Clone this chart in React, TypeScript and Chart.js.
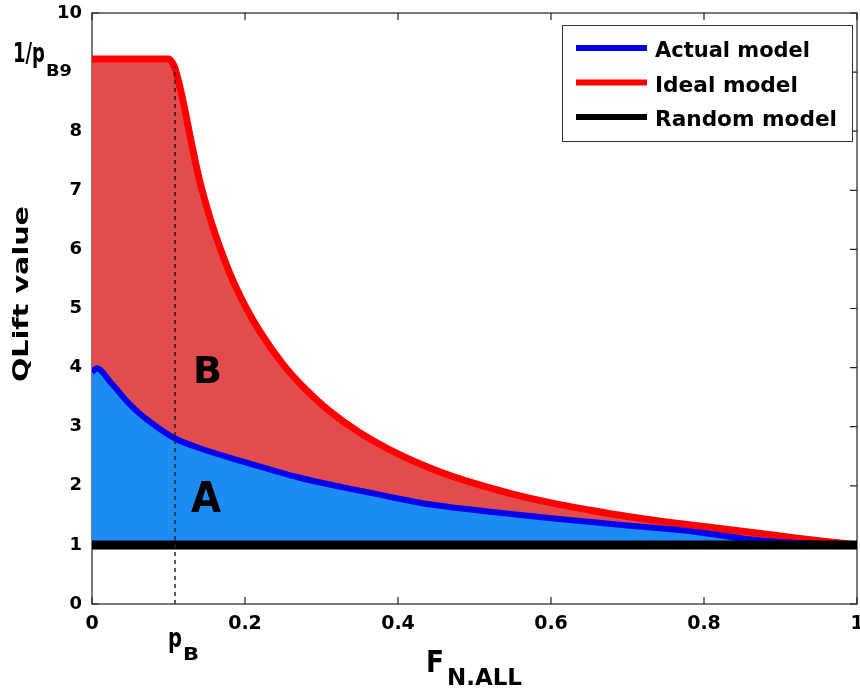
import React, { useEffect, useRef } from "react";
import { Chart, registerables } from "chart.js";

Chart.register(...registerables);

// ---- data ----
const idealX = [0, 0.1, 0.104, 0.108, 0.113, 0.12, 0.13, 0.14, 0.15, 0.16, 0.18, 0.2, 0.22, 0.25, 0.28, 0.31, 0.35, 0.4, 0.45, 0.5, 0.55, 0.6, 0.65, 0.7, 0.75, 0.8, 0.85, 0.9, 0.95, 1.0];
const idealY = [9.22, 9.22, 9.18, 9.08, 8.85, 8.45, 7.8, 7.2, 6.72, 6.3, 5.6, 5.05, 4.6, 4.05, 3.62, 3.27, 2.9, 2.54, 2.26, 2.04, 1.86, 1.71, 1.59, 1.48, 1.39, 1.31, 1.23, 1.15, 1.07, 1.0];

const actualX = [0, 0.006, 0.025, 0.05, 0.076, 0.1085, 0.14, 0.2, 0.27, 0.33, 0.376, 0.43, 0.5, 0.55, 0.6, 0.666, 0.7, 0.769, 0.8, 0.85, 0.9, 0.95, 1.0];
const actualY = [3.92, 3.99, 3.74, 3.37, 3.08, 2.8, 2.64, 2.4, 2.14, 1.97, 1.85, 1.71, 1.59, 1.52, 1.45, 1.37, 1.33, 1.25, 1.2, 1.11, 1.05, 1.02, 1.0];

const randomX = [0, 1];
const randomY = [1, 1];

const xTickValues = [0, 0.2, 0.4, 0.6, 0.8, 1];
const yTickValues = [0, 1, 2, 3, 4, 5, 6, 7, 8, 9, 10];
const pB = 0.1085;
const invPB = 9.1;

const legendLabels = ["Actual model", "Ideal model", "Random model"];
const legendColors = ["#0000ee", "#ff0000", "#000000"];

const FONT = '"DejaVu Sans"';

function toPoints(xs: number[], ys: number[]) {
  return xs.map((x, i) => ({ x, y: ys[i] }));
}

function fitText(ctx: CanvasRenderingContext2D, text: string, x: number, y: number, size: number, width?: number) {
  ctx.save();
  ctx.font = `bold ${size}px ${FONT}`;
  ctx.textAlign = "left";
  ctx.textBaseline = "alphabetic";
  const w = ctx.measureText(text).width;
  ctx.translate(x, y);
  if (width) ctx.scale(width / w, 1);
  ctx.fillText(text, 0, 0);
  ctx.restore();
}

const framePlugin = {
  id: "frame",
  beforeDatasetsDraw(chart: any) {
    const { ctx, chartArea } = chart;
    const { left, right, top, bottom } = chartArea;
    const xs = chart.scales.x;
    const ys = chart.scales.y;
    ctx.save();
    ctx.strokeStyle = "#222";
    ctx.lineWidth = 1.2;
    ctx.strokeRect(left, top, right - left, bottom - top);
    ctx.beginPath();
    const tl = 7;
    xTickValues.forEach((v) => {
      const px = xs.getPixelForValue(v);
      ctx.moveTo(px, bottom);
      ctx.lineTo(px, bottom - tl);
      ctx.moveTo(px, top);
      ctx.lineTo(px, top + tl);
    });
    yTickValues.forEach((v) => {
      const py = ys.getPixelForValue(v);
      ctx.moveTo(left, py);
      ctx.lineTo(left + tl, py);
      ctx.moveTo(right, py);
      ctx.lineTo(right - tl, py);
    });
    ctx.stroke();
    ctx.restore();
  },
  afterDatasetsDraw(chart: any) {
    const { ctx } = chart;
    const xs = chart.scales.x;
    const ys = chart.scales.y;
    ctx.save();
    // dashed p_B line
    const px = xs.getPixelForValue(pB);
    ctx.strokeStyle = "#222";
    ctx.lineWidth = 1.5;
    ctx.setLineDash([4, 4]);
    ctx.beginPath();
    ctx.moveTo(px, ys.getPixelForValue(0));
    ctx.lineTo(px, ys.getPixelForValue(invPB));
    ctx.stroke();
    ctx.setLineDash([]);

    // region labels
    ctx.fillStyle = "#000";
    fitText(ctx, "B", 193, 383, 38, 29);
    fitText(ctx, "A", 191, 512, 42, 30);

    // legend
    ctx.fillStyle = "#fff";
    ctx.fillRect(562, 25, 290, 116);
    ctx.strokeStyle = "#333";
    ctx.lineWidth = 1;
    ctx.strokeRect(562.5, 25.5, 290, 116);
    const baselines = [57, 91.5, 126];
    const widths = [155, 143, 182];
    legendLabels.forEach((lab, i) => {
      ctx.strokeStyle = legendColors[i];
      ctx.lineWidth = 6;
      ctx.beginPath();
      ctx.moveTo(576, baselines[i] - 9);
      ctx.lineTo(647, baselines[i] - 9);
      ctx.stroke();
      ctx.fillStyle = "#000";
      fitText(ctx, lab, 655, baselines[i], 21, widths[i]);
    });

    // custom tick texts
    ctx.fillStyle = "#000";
    fitText(ctx, "1/p", 13, 62, 26, 32);
    fitText(ctx, "B9", 46, 76, 16, 26);
    fitText(ctx, "p", 168, 647, 26, 14);
    fitText(ctx, "B", 183, 660, 17, 16);

    // axis titles
    fitText(ctx, "F", 426, 672, 30, 18);
    fitText(ctx, "N.ALL", 447, 685, 23, 75);

    ctx.save();
    ctx.translate(28, 382);
    ctx.rotate(-Math.PI / 2);
    fitText(ctx, "QLift value", 0, 0, 22, 176);
    ctx.restore();

    ctx.restore();
  },
};

export default function App() {
  const ref = useRef<HTMLCanvasElement | null>(null);
  useEffect(() => {
    if (!ref.current) return;
    const chart = new Chart(ref.current, {
      type: "line",
      data: {
        datasets: [
          {
            label: "Random model",
            data: toPoints(randomX, randomY),
            borderColor: "#000000",
            borderWidth: 9,
            pointRadius: 0,
            fill: false,
          },
          {
            label: "Actual model",
            data: toPoints(actualX, actualY),
            borderColor: "#0000ee",
            backgroundColor: "rgb(28,140,242)",
            borderWidth: 6,
            pointRadius: 0,
            cubicInterpolationMode: "monotone",
            fill: { value: 1 },
          },
          {
            label: "Ideal model",
            data: toPoints(idealX, idealY),
            borderColor: "#ff0000",
            backgroundColor: "rgb(227,76,76)",
            borderWidth: 7,
            pointRadius: 0,
            cubicInterpolationMode: "monotone",
            fill: { value: 1 },
          },
        ],
      },
      options: {
        animation: false,
        responsive: false,
        layout: { padding: { left: 0, top: 13, right: 3, bottom: 0 } },
        plugins: { legend: { display: false }, tooltip: { enabled: false } },
        scales: {
          x: {
            type: "linear",
            min: 0,
            max: 1,
            afterFit: (s: any) => {
              s.height = 90;
              s.paddingLeft = 0;
              s.paddingRight = 0;
            },
            afterBuildTicks: (s: any) => {
              s.ticks = xTickValues.map((v) => ({ value: v }));
            },
            grid: { display: false, drawTicks: false },
            border: { display: false },
            ticks: {
              padding: 9,
              color: "#000",
              font: { family: FONT, size: 19, weight: "bold" },
              callback: (v: any) => String(+Number(v).toFixed(1)),
              maxRotation: 0,
              autoSkip: false,
            },
          },
          y: {
            type: "linear",
            min: 0,
            max: 10,
            afterFit: (s: any) => {
              s.width = 92;
              s.paddingTop = 0;
              s.paddingBottom = 0;
            },
            afterBuildTicks: (s: any) => {
              s.ticks = yTickValues.map((v) => ({ value: v }));
            },
            grid: { display: false, drawTicks: false },
            border: { display: false },
            ticks: {
              padding: 10,
              color: "#000",
              font: { family: FONT, size: 18, weight: "bold" },
              callback: (v: any) => (Number(v) === 9 ? "" : String(v)),
              autoSkip: false,
            },
          },
        },
      },
      plugins: [framePlugin],
    });
    return () => chart.destroy();
  }, []);
  return (
    <div style={{ position: "fixed", left: 0, top: 0, width: 860, height: 694, background: "#fff" }}>
      <canvas ref={ref} width={860} height={694} />
    </div>
  );
}
